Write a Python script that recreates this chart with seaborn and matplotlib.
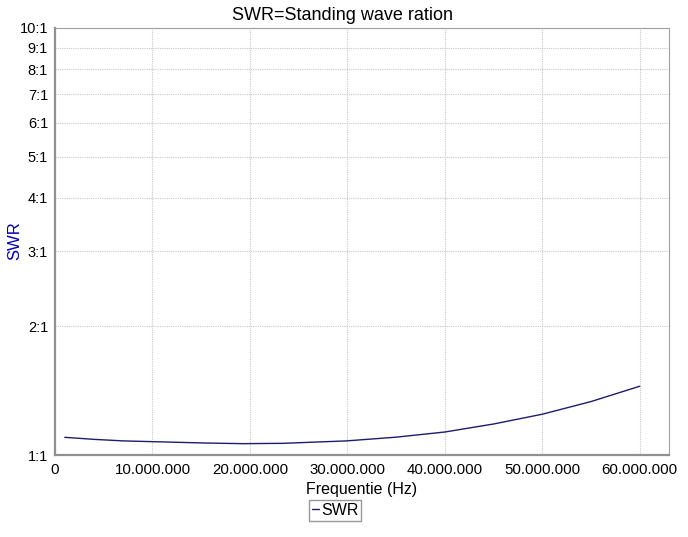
import numpy as np
import matplotlib
matplotlib.use("Agg")
import matplotlib.pyplot as plt
import matplotlib.ticker as mticker
import seaborn as sns
import pandas as pd

# frequentie (Hz) en SWR
freq = [1.0e6, 4.0e6, 7.0e6, 9.7e6, 12.5e6, 15.2e6, 19.3e6, 23.4e6, 26.2e6, 29.9e6,
        35.0e6, 40.0e6, 45.0e6, 50.0e6, 55.0e6, 60.0e6]
swr = [1.100, 1.088, 1.079, 1.075, 1.071, 1.067, 1.063, 1.065, 1.071, 1.079,
       1.101, 1.132, 1.182, 1.246, 1.334, 1.449]
y_ticks = [1, 2, 3, 4, 5, 6, 7, 8, 9, 10]
x_ticks = [0, 10e6, 20e6, 30e6, 40e6, 50e6, 60e6]

df = pd.DataFrame({"Frequentie": freq, "SWR": swr})

sns.set_style("white")
plt.rcParams["font.family"] = ["Liberation Sans", "DejaVu Sans"]
plt.rcParams["text.color"] = "black"
plt.rcParams["axes.labelcolor"] = "black"

fig = plt.figure(figsize=(6.88, 5.37), dpi=100)
ax = fig.add_axes([0.080, 0.1527, 0.8924, 0.7952])

sns.lineplot(data=df, x="Frequentie", y="SWR", ax=ax, color="#1c1c6e",
             linewidth=1.0, label="SWR")

ax.set_yscale("log")
ax.set_ylim(1, 10)
ax.set_xlim(0, 63e6)
ax.yaxis.set_major_locator(mticker.FixedLocator(y_ticks))
ax.yaxis.set_minor_locator(mticker.NullLocator())
ax.yaxis.set_major_formatter(mticker.FuncFormatter(lambda v, p: f"{v:.0f}:1"))
ax.xaxis.set_major_locator(mticker.FixedLocator(x_ticks))
ax.xaxis.set_major_formatter(
    mticker.FuncFormatter(lambda v, p: f"{int(round(v)):,}".replace(",", ".")))

ax.grid(True, color="#c8c8c8", linestyle=(0, (1, 1)), linewidth=0.8)
ax.tick_params(axis="y", labelsize=10.5, colors="black", length=3,
               width=0.8, pad=2)
ax.tick_params(axis="x", labelsize=10.8, colors="black", length=3,
               width=0.8, pad=3)

for side in ["top", "right"]:
    ax.spines[side].set_color("#a0a0a0")
    ax.spines[side].set_linewidth(0.8)
for side in ["left", "bottom"]:
    ax.spines[side].set_color("#909090")
    ax.spines[side].set_linewidth(1.6)

fig.suptitle("SWR=Standing wave ration", fontsize=13, x=0.4985, y=0.972,
             va="center", color="black")
ax.set_xlabel("Frequentie (Hz)", fontsize=11.5, labelpad=3)
ax.set_ylabel("SWR", fontsize=12, color="#0000b4")
ax.yaxis.set_label_coords(-0.054, 0.501)

ax.legend(loc="center", bbox_to_anchor=(0.487, 0.0493),
          bbox_transform=fig.transFigure, fontsize=11.5, frameon=True,
          fancybox=False, edgecolor="#808080", handlelength=0.45,
          handletextpad=0.12, borderpad=0.2, borderaxespad=0)

fig.savefig("out.png", dpi=100)
